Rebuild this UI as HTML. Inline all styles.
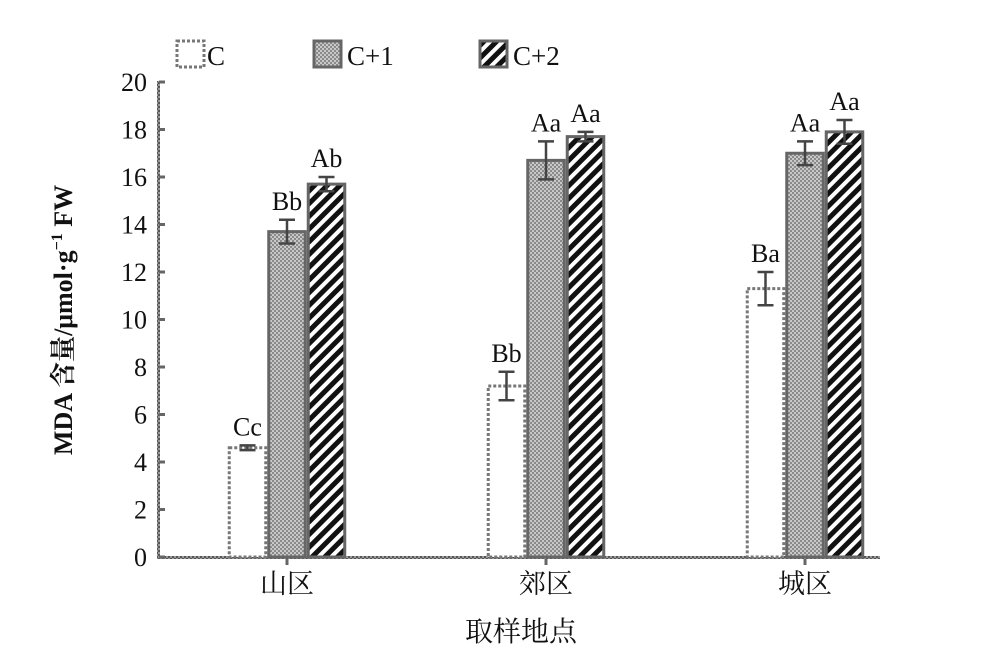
<!DOCTYPE html>
<html><head><meta charset="utf-8"><style>
body{margin:0;background:#fff}
svg text{font-family:"Liberation Serif","Noto Serif CJK SC",serif;fill:#111}
</style></head><body>
<svg width="992" height="662" viewBox="0 0 992 662" xmlns="http://www.w3.org/2000/svg">
<defs>
<pattern id="chk" width="4" height="4" patternUnits="userSpaceOnUse"><rect width="4" height="4" fill="#c8c8c8"/><rect width="2" height="2" fill="#8a8a8a"/><rect x="2" y="2" width="2" height="2" fill="#8a8a8a"/></pattern>
<pattern id="diag" width="9" height="9" patternUnits="userSpaceOnUse" patternTransform="rotate(45)"><rect width="9" height="9" fill="#fff"/><rect width="5" height="9" fill="#111"/></pattern>
<pattern id="axd" width="4" height="4" patternUnits="userSpaceOnUse"><rect width="4" height="4" fill="#999"/><rect width="2" height="2" fill="#555"/><rect x="2" y="2" width="2" height="2" fill="#555"/></pattern>
</defs>
<g id="legend">
<rect x="177" y="41" width="27" height="26" fill="#fff" stroke="#777" stroke-width="3" stroke-dasharray="3,2"/>
<text x="207" y="65" font-size="27">C</text>
<rect x="314" y="41" width="27" height="26" fill="url(#chk)" stroke="#666" stroke-width="3"/>
<text x="347" y="65" font-size="27">C+1</text>
<rect x="480" y="41" width="27" height="26" fill="url(#diag)" stroke="#666" stroke-width="3"/>
<text x="513" y="65" font-size="27">C+2</text>
</g>
<g id="plot"></g>
<text transform="translate(72,320) rotate(-90)" text-anchor="middle" font-size="26" font-weight="bold">MDA 含量/μmol·g<tspan font-size="16" dy="-10">−1</tspan><tspan dy="10"> FW</tspan></text>
<text x="521" y="641" text-anchor="middle" font-size="28">取样地点</text>
</svg>
<script>
const categories=["山区","郊区","城区"];
const seriesC=[4.6,7.2,11.3];
const seriesC1=[13.7,16.7,17.0];
const seriesC2=[15.7,17.7,17.9];
const errC=[0.1,0.6,0.7];
const errC1=[0.5,0.8,0.5];
const errC2=[0.3,0.2,0.5];
const labelsC=["Cc","Bb","Ba"];
const labelsC1=["Bb","Aa","Aa"];
const labelsC2=["Ab","Aa","Aa"];
const yTicks=[0,2,4,6,8,10,12,14,16,18,20];

const NS="http://www.w3.org/2000/svg";
const g=document.getElementById('plot');
const y0=557,y1=82,x0=159,x1=882;
const y=v=>y0-(v/20)*(y0-y1);
const groupCenter=i=>287+i*259;
const bw=39.5;
function mk(t,a){const e=document.createElementNS(NS,t);for(const k in a)e.setAttribute(k,a[k]);g.appendChild(e);return e;}
// axes
let ax=mk('rect',{x:x0-2,y:y1-1,width:3,height:y0-y1+2,fill:'url(#axd)'});


let bx=mk('rect',{x:x0-2,y:y0-1,width:x1-x0,height:3,fill:'url(#axd)'});


yTicks.forEach(v=>{
 let t=mk('rect',{x:x0,y:y(v)-1.5,width:6,height:3,fill:'#666'});
 
 
 let l=mk('text',{x:x0-12,y:y(v)+9,'text-anchor':'end','font-size':'26'});
 l.textContent=v;
 
 
});
const series=[[seriesC,errC,labelsC,'#fff','#777'],[seriesC1,errC1,labelsC1,'url(#chk)','#666'],[seriesC2,errC2,labelsC2,'url(#diag)','#666']];
categories.forEach((c,i)=>{
 const cx=groupCenter(i);
 let tk=mk('rect',{x:cx-1.5,y:y0+2,width:3,height:6,fill:'#666'});
 
 
 let cl=mk('text',{x:cx,y:y0+36,'text-anchor':'middle','font-size':'27'});
 cl.textContent=c;
 
 
 series.forEach((s,j)=>{
  const v=s[0][i],e=s[1][i];
  const bx0=cx-1.5*bw+j*bw;
  let b=mk('rect',{x:bx0+1.5,y:y(v),width:bw-3,height:y0-y(v),fill:s[3],stroke:s[4],'stroke-width':3,'stroke-dasharray':j==0?'3,2':'none'});
  
  
  const mx=bx0+bw/2;
  let eb=mk('path',{d:`M${mx},${y(v+e)}V${y(v-e)}M${mx-8},${y(v+e)}H${mx+8}M${mx-8},${y(v-e)}H${mx+8}`,stroke:'#444','stroke-width':2.5,fill:'none'});
  
  
  let lt=mk('text',{x:mx,y:y(v+e)-10,'text-anchor':'middle','font-size':'26'});
  lt.textContent=s[2][i];
  
  
 });
});
</script>
</body></html>
